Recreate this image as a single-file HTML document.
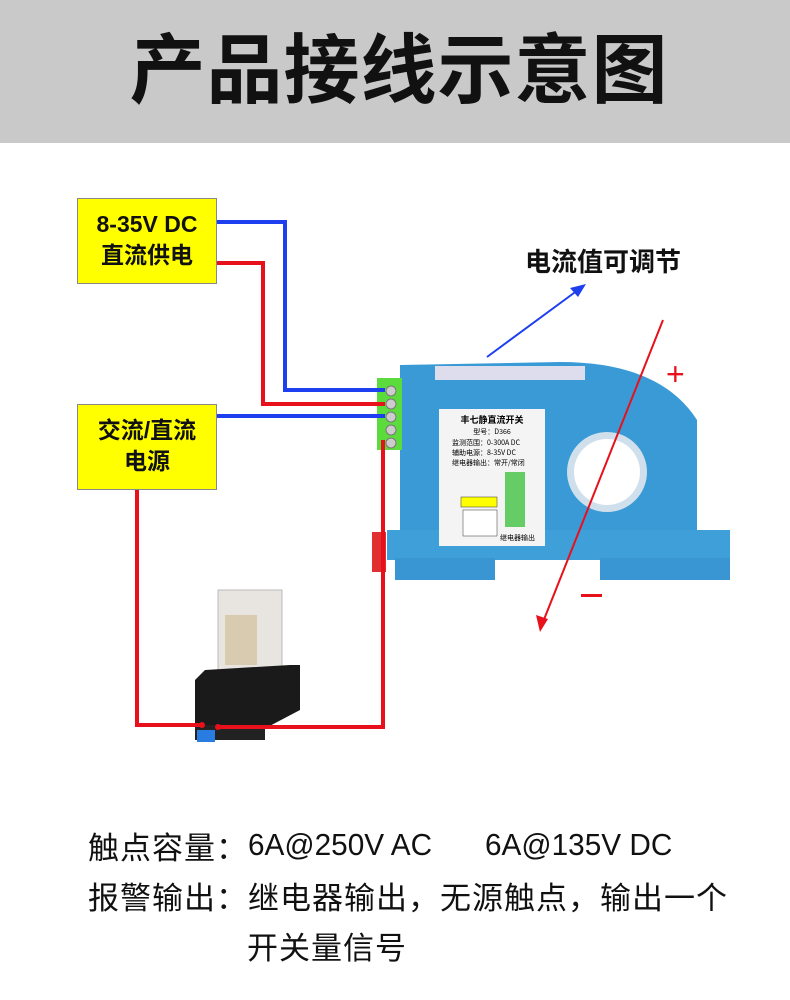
<!DOCTYPE html>
<html><head><meta charset="utf-8"><style>
body{margin:0;width:790px;height:1000px;background:#fff;overflow:hidden;position:relative;font-family:"Liberation Sans","Noto Sans CJK SC",sans-serif}
.hd{position:absolute;left:0;top:0;width:790px;height:143px;background:#c9c9c9;text-align:center;font-size:76px;line-height:143px;font-weight:bold;color:#111;letter-spacing:1px;padding-left:8px;box-sizing:border-box}
.box{position:absolute;left:77px;width:140px;height:86px;background:#ffff00;border:1px solid #888;text-align:center;font-size:23px;font-weight:bold;color:#111;line-height:31px;padding-top:10px;box-sizing:border-box}
.t{position:absolute;font-size:31px;color:#111;white-space:nowrap;letter-spacing:1px}
</style></head><body>
<div class="hd">产品接线示意图</div>
<div class="box" style="top:198px">8-35V DC<br>直流供电</div>
<div class="box" style="top:404px">交流/直流<br>电源</div>
<div class="t" style="left:525px;top:242px;font-size:26px;font-weight:bold;letter-spacing:0">电流值可调节</div>
<svg width="790" height="1000" style="position:absolute;left:0;top:0">
<path d="M400 378 L400 548 L697 548 L697 420 Q660 362 560 362 L400 365Z" fill="#3a9ad6"/>
<rect x="387" y="530" width="343" height="30" fill="#3f9fd8"/>
<rect x="395" y="558" width="100" height="22" fill="#3a96d2"/>
<rect x="600" y="558" width="130" height="22" fill="#3a96d2"/>
<rect x="372" y="532" width="14" height="40" fill="#e03030"/>
<rect x="435" y="366" width="150" height="14" fill="#dde"/>
<circle cx="607" cy="472" r="40" fill="#cfe0ec"/>
<circle cx="607" cy="472" r="33" fill="#fff"/>
<rect x="377" y="378" width="25" height="72" fill="#5cdc3c"/>
<g fill="#ccc" stroke="#777"><circle cx="391" cy="391" r="5"/><circle cx="391" cy="404" r="5"/><circle cx="391" cy="417" r="5"/><circle cx="391" cy="430" r="5"/><circle cx="391" cy="443" r="5"/></g>
<rect x="439" y="409" width="106" height="137" fill="#f4f4f4"/>
<text x="492" y="423" font-size="9" font-weight="bold" text-anchor="middle" font-family="Noto Sans CJK SC">丰七静直流开关</text>
<text x="492" y="434" font-size="7" text-anchor="middle" font-family="Noto Sans CJK SC">型号：D366</text>
<text x="452" y="445" font-size="7" font-family="Noto Sans CJK SC">监测范围：0-300A DC</text>
<text x="452" y="455" font-size="7" font-family="Noto Sans CJK SC">辅助电源：8-35V DC</text>
<text x="452" y="465" font-size="7" font-family="Noto Sans CJK SC">继电器输出：常开/常闭</text>
<rect x="505" y="472" width="20" height="55" fill="#6c6"/>
<rect x="461" y="497" width="36" height="10" fill="#ff0" stroke="#333" stroke-width=".5"/>
<rect x="463" y="510" width="34" height="26" fill="#fff" stroke="#333" stroke-width=".5"/>
<text x="500" y="540" font-size="7" font-family="Noto Sans CJK SC">继电器输出</text>
<rect x="218" y="590" width="64" height="80" fill="#e8e4e0" stroke="#bbb"/>
<rect x="225" y="615" width="32" height="50" fill="#d8cbb0"/>
<path d="M205 670 L290 665 L300 665 L300 710 L262 730 L195 730 L195 680Z" fill="#1a1a1a"/>
<rect x="195" y="725" width="70" height="15" fill="#222"/>
<rect x="197" y="730" width="18" height="12" fill="#2a7de0"/>
<g fill="none" stroke-width="4">
<polyline points="217,222 285,222 285,390 385,390" stroke="#1e3ff0"/>
<polyline points="217,263 263,263 263,404 385,404" stroke="#e8101a"/>
<polyline points="217,416 385,416" stroke="#1e3ff0"/>
<polyline points="137,490 137,725 202,725" stroke="#e8101a"/>
<polyline points="383,440 383,727 218,727" stroke="#e8101a"/>
</g>
<circle cx="202" cy="725" r="3" fill="#e8101a"/><circle cx="218" cy="727" r="3" fill="#e8101a"/>
<line x1="487" y1="357" x2="578" y2="290" stroke="#1e3ff0" stroke-width="2"/>
<polygon points="586,284 570,288 578,297" fill="#1e3ff0"/>
<line x1="663" y1="320" x2="543" y2="622" stroke="#e8101a" stroke-width="2"/>
<polygon points="540,632 536,615 548,619" fill="#e8101a"/>
<text x="666" y="385" font-size="32" fill="#e8101a">+</text>
<rect x="581" y="594" width="21" height="3" fill="#e8101a"/>
</svg>
<div class="t" style="left:88px;top:823px">触点容量：</div>
<div class="t" style="left:248px;top:827px;letter-spacing:0;transform:scaleX(0.96);transform-origin:left">6A@250V AC</div>
<div class="t" style="left:485px;top:827px;letter-spacing:0;transform:scaleX(0.96);transform-origin:left">6A@135V DC</div>
<div class="t" style="left:88px;top:873px">报警输出：</div>
<div class="t" style="left:248px;top:873px;letter-spacing:1px">继电器输出，无源触点，输出一个</div>
<div class="t" style="left:247px;top:923px;letter-spacing:1px">开关量信号</div>
</body></html>
